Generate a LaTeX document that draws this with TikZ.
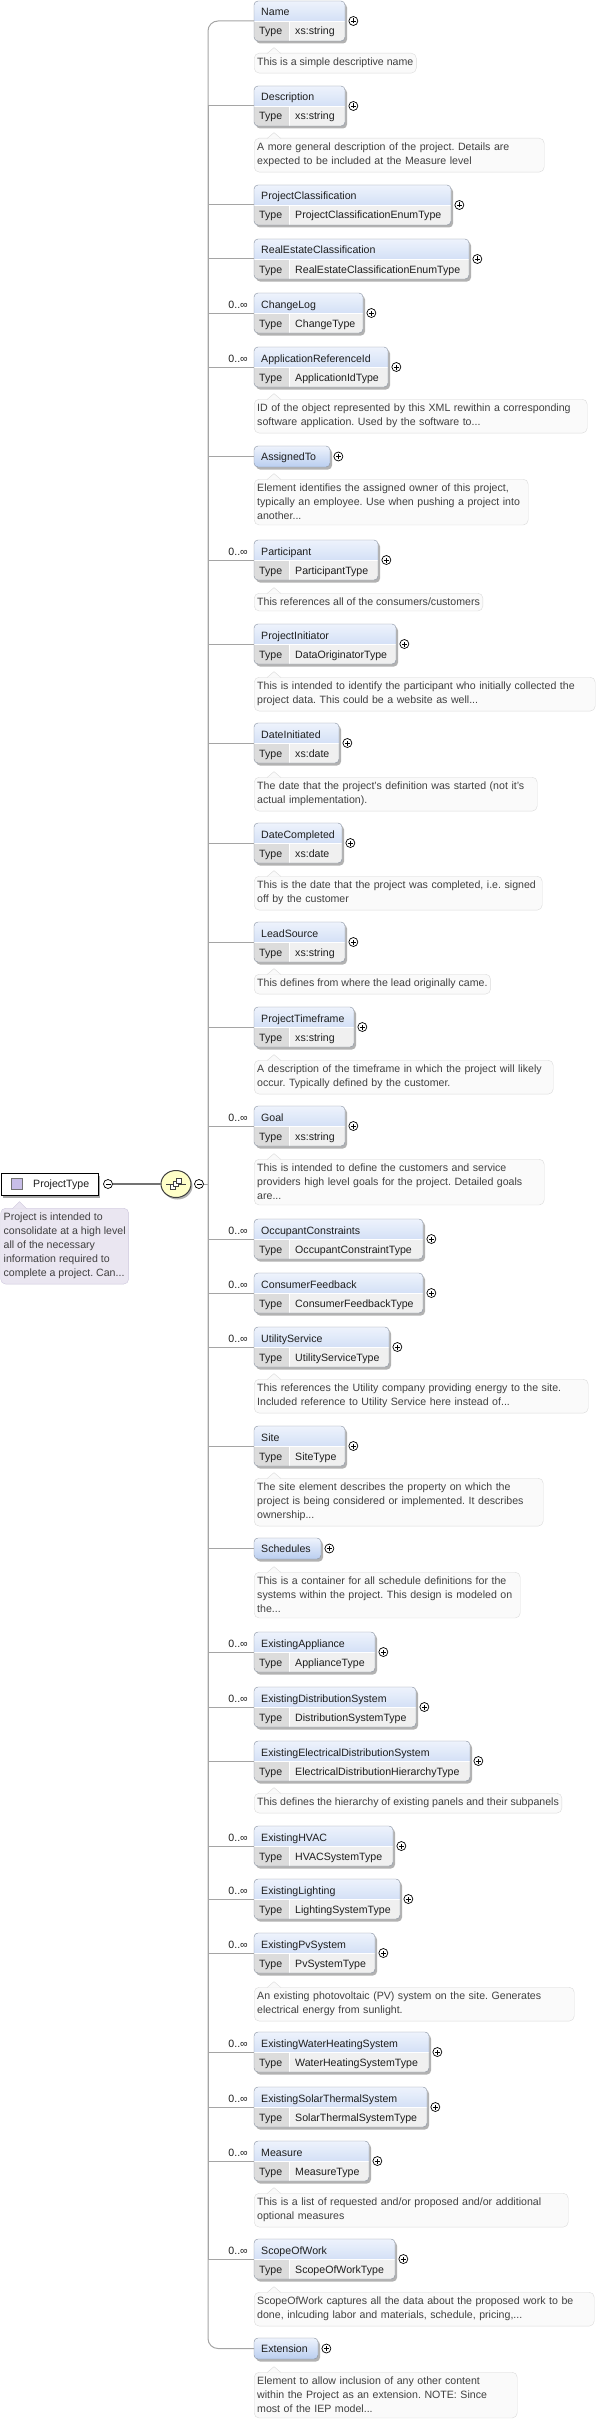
\documentclass[tikz,border=0pt]{standalone}
\usepackage{fontspec}
\setmainfont{Liberation Sans}
\usepackage{tikz}
\usetikzlibrary{shapes.geometric, shadows, positioning}

\definecolor{hdtop}{RGB}{238,243,252}
\definecolor{hdbot}{RGB}{186,206,240}
\definecolor{boxline}{RGB}{135,145,160}
\definecolor{typefill}{RGB}{220,220,220}
\definecolor{valfill}{RGB}{240,240,240}
\definecolor{docfill}{RGB}{250,250,250}
\definecolor{docline}{RGB}{218,218,218}
\definecolor{rootfill}{RGB}{234,230,241}
\definecolor{rootline}{RGB}{205,198,220}
\definecolor{iconfill}{RGB}{200,190,232}
\definecolor{seqfill}{RGB}{255,255,200}
\definecolor{linkgray}{RGB}{165,165,165}
\definecolor{txt}{RGB}{30,30,30}

\begin{document}
\frenchspacing
\begin{tikzpicture}[
    x=1pt, y=-1pt,
    font=\fontsize{10.6}{14}\selectfont,
    box/.style={
        draw=boxline, rounded corners=4pt,
        anchor=north west, inner sep=0pt, outer sep=0pt,
        drop shadow={shadow xshift=2pt, shadow yshift=-2.5pt, fill=black!30, opacity=1}
    },
    lbl/.style={anchor=base west, inner sep=0pt, text=txt},
    elem/.style n args={3}{
        box, fill=valfill,
        minimum width=#1, minimum height=40,
        path picture={
            \shade[sharp corners, top color=hdtop, bottom color=hdbot]
                (path picture bounding box.north west) rectangle (path picture bounding box.east);
            \fill[sharp corners, typefill] (path picture bounding box.west)
                rectangle ([xshift=35pt]path picture bounding box.south west);
            \draw[white, line width=0.8pt] (path picture bounding box.west) -- (path picture bounding box.east);
            \draw[white, line width=0.8pt] ([xshift=35pt]path picture bounding box.west)
                -- ([xshift=35pt]path picture bounding box.south west);
        },
        label={[lbl, xshift=7pt, yshift=-15pt]north west:#2},
        label={[lbl, xshift=5pt, yshift=6pt]south west:Type},
        label={[lbl, xshift=41pt, yshift=6pt]south west:#3}
    },
    group/.style 2 args={
        box, minimum width=#1, minimum height=21,
        top color=hdtop, bottom color=hdbot,
        label={[lbl, xshift=7pt, yshift=-14.5pt]north west:#2}
    },
    many/.style={label={[lbl, anchor=base east, xshift=-6pt, yshift=-15pt]north west:0..∞}},
    plus/.style={
        circle, draw=black, fill=white, line width=0.7pt,
        minimum size=9pt, inner sep=0pt,
        path picture={
            \draw[line width=0.7pt] ([xshift=-2.5pt]path picture bounding box.center)
                -- ([xshift=2.5pt]path picture bounding box.center)
                ([yshift=-2.5pt]path picture bounding box.center)
                -- ([yshift=2.5pt]path picture bounding box.center);
        }
    },
    minus/.style={
        circle, draw=black, fill=white, line width=0.7pt,
        minimum size=9pt, inner sep=0pt,
        path picture={
            \draw[line width=0.7pt] ([xshift=-2.5pt]path picture bounding box.center)
                -- ([xshift=2.5pt]path picture bounding box.center);
        }
    },
    seq/.style={
        ellipse, draw=black!75, line width=1pt, fill=seqfill,
        minimum width=30, minimum height=27, inner sep=0pt,
        drop shadow={shadow xshift=1.5pt, shadow yshift=-2pt, fill=black!30, opacity=1},
        path picture={
            \draw[line width=0.8pt] ([xshift=-10pt]path picture bounding box.center)
                -- ([xshift=10pt]path picture bounding box.center);
            \foreach \i in {-1,0,1}
                \filldraw[fill=white, line width=0.6pt]
                    ([xshift=\i*3pt-2.5pt, yshift=\i*3pt-2.5pt]path picture bounding box.center)
                    rectangle ++(5pt,5pt);
        }
    },
    root/.style={
        draw=black, fill=white, line width=1pt,
        anchor=north west, minimum width=97, minimum height=22, inner sep=0pt,
        drop shadow={shadow xshift=2pt, shadow yshift=-2.5pt, fill=black!35, opacity=1}
    },
    rooticon/.style={draw=black!55, fill=iconfill, minimum size=11pt, inner sep=0pt},
    doc/.style={
        draw=docline, fill=docfill, rounded corners=5pt,
        anchor=north west, align=left, inner xsep=3pt, inner ysep=5pt,
        text=txt!85
    },
    rootdoc/.style={doc, draw=rootline, fill=rootfill},
    tip/.style={draw=docline, fill=docfill, sharp corners},
    link/.style={draw=linkgray, line width=1pt},
    rootlink/.style={draw=black!55, line width=1.3pt},
]
\useasboundingbox (0,0) rectangle (598,2424);

% ProjectType
\node[root] (ptype) at (0.5,1173) {};
\node[rooticon] (ptypeI) at (16.5,1184) {};
\node[lbl, anchor=west] (ptypeT) at (33,1184.5) {ProjectType};
\node[minus] (ptypeM) at (108,1184) {};
\node[rootdoc] (ptypeD) at (0.5,1208)
    {Project is intended to\\consolidate at a high level\\all of the necessary\\information required to\\complete a project. Can...};
\draw[tip, draw=rootline, fill=rootfill] ([xshift=12pt, yshift=-0.6pt]ptypeD.north west) -- ++(7,-7) -- ++(7,7);

% Sequence
\node[seq] (seq) at (176,1184) {};
\node[minus] (seqM) at (199,1184) {};
\coordinate (spine) at (208,1184);
\draw[rootlink] (ptypeM) -- (seq);
\draw[link] (seqM) -- (spine);

%% Children
\node[elem={91}{Name}{xs:string}] (name) at (254,1) {};
\node[plus, right=3.5pt of name] (nameP) {};
\draw[link, rounded corners=10pt] (spine) |- (name.west);
\node[doc] (nameD) at (254,53) {This is a simple descriptive name};
\draw[tip] ([xshift=13pt, yshift=-0.6pt]nameD.north west) -- ++(7,-6) -- ++(7,6);

\node[elem={91}{Description}{xs:string}] (desc) at (254,86) {};
\node[plus, right=3.5pt of desc] (descP) {};
\draw[link] (spine) |- (desc.west);
\node[doc, text width=284pt] (descD) at (254,138)
    {A more general description of the project. Details are\\expected to be included at the Measure level};
\draw[tip] ([xshift=13pt, yshift=-0.6pt]descD.north west) -- ++(7,-6) -- ++(7,6);

\node[elem={197}{ProjectClassification}{ProjectClassificationEnumType}] (pclass) at (254,185) {};
\node[plus, right=3.5pt of pclass] (pclassP) {};
\draw[link] (spine) |- (pclass.west);

\node[elem={215}{RealEstateClassification}{RealEstateClassificationEnumType}] (reclass) at (254,239) {};
\node[plus, right=3.5pt of reclass] (reclassP) {};
\draw[link] (spine) |- (reclass.west);

\node[elem={109}{ChangeLog}{ChangeType}, many] (chlog) at (254,293) {};
\node[plus, right=3.5pt of chlog] (chlogP) {};
\draw[link] (spine) |- (chlog.west);

\node[elem={134}{ApplicationReferenceId}{ApplicationIdType}, many] (appid) at (254,347) {};
\node[plus, right=3.5pt of appid] (appidP) {};
\draw[link] (spine) |- (appid.west);
\node[doc, text width=327pt] (appidD) at (254,399)
    {ID of the object represented by this XML rewithin a corresponding\\software application. Used by the software to...};
\draw[tip] ([xshift=13pt, yshift=-0.6pt]appidD.north west) -- ++(7,-6) -- ++(7,6);

\node[group={76}{AssignedTo}] (assto) at (254,446) {};
\node[plus, right=3.5pt of assto] (asstoP) {};
\draw[link] (spine) |- (assto.west);
\node[doc, text width=268pt] (asstoD) at (254,479)
    {Element identifies the assigned owner of this project,\\typically an employee. Use when pushing a project into\\another...};
\draw[tip] ([xshift=13pt, yshift=-0.6pt]asstoD.north west) -- ++(7,-6) -- ++(7,6);

\node[elem={124}{Participant}{ParticipantType}, many] (part) at (254,540) {};
\node[plus, right=3.5pt of part] (partP) {};
\draw[link] (spine) |- (part.west);
\node[doc] (partD) at (254,593) {This references all of the consumers/customers};
\draw[tip] ([xshift=13pt, yshift=-0.6pt]partD.north west) -- ++(7,-6) -- ++(7,6);

\node[elem={142}{ProjectInitiator}{DataOriginatorType}] (pinit) at (254,624) {};
\node[plus, right=3.5pt of pinit] (pinitP) {};
\draw[link] (spine) |- (pinit.west);
\node[doc, text width=335pt] (pinitD) at (254,677)
    {This is intended to identify the participant who initially collected the\\project data. This could be a website as well...};
\draw[tip] ([xshift=13pt, yshift=-0.6pt]pinitD.north west) -- ++(7,-6) -- ++(7,6);

\node[elem={85}{DateInitiated}{xs:date}] (dinit) at (254,723) {};
\node[plus, right=3.5pt of dinit] (dinitP) {};
\draw[link] (spine) |- (dinit.west);
\node[doc, text width=277pt] (dinitD) at (254,777)
    {The date that the project's definition was started (not it's\\actual implementation).};
\draw[tip] ([xshift=13pt, yshift=-0.6pt]dinitD.north west) -- ++(7,-6) -- ++(7,6);

\node[elem={88}{DateCompleted}{xs:date}] (dcomp) at (254,823) {};
\node[plus, right=3.5pt of dcomp] (dcompP) {};
\draw[link] (spine) |- (dcomp.west);
\node[doc, text width=282pt] (dcompD) at (254,876)
    {This is the date that the project was completed, i.e. signed\\off by the customer};
\draw[tip] ([xshift=13pt, yshift=-0.6pt]dcompD.north west) -- ++(7,-6) -- ++(7,6);

\node[elem={91}{LeadSource}{xs:string}] (lead) at (254,922) {};
\node[plus, right=3.5pt of lead] (leadP) {};
\draw[link] (spine) |- (lead.west);
\node[doc] (leadD) at (254,974) {This defines from where the lead originally came.};
\draw[tip] ([xshift=13pt, yshift=-0.6pt]leadD.north west) -- ++(7,-6) -- ++(7,6);

\node[elem={100}{ProjectTimeframe}{xs:string}] (ptime) at (254,1007) {};
\node[plus, right=3.5pt of ptime] (ptimeP) {};
\draw[link] (spine) |- (ptime.west);
\node[doc, text width=293pt] (ptimeD) at (254,1060)
    {A description of the timeframe in which the project will likely\\occur. Typically defined by the customer.};
\draw[tip] ([xshift=13pt, yshift=-0.6pt]ptimeD.north west) -- ++(7,-6) -- ++(7,6);

\node[elem={91}{Goal}{xs:string}, many] (goal) at (254,1106) {};
\node[plus, right=3.5pt of goal] (goalP) {};
\draw[link] (spine) |- (goal.west);
\node[doc, text width=284pt] (goalD) at (254,1159)
    {This is intended to define the customers and service\\providers high level goals for the project. Detailed goals\\are...};
\draw[tip] ([xshift=13pt, yshift=-0.6pt]goalD.north west) -- ++(7,-6) -- ++(7,6);

\node[elem={169}{OccupantConstraints}{OccupantConstraintType}, many] (occ) at (254,1219) {};
\node[plus, right=3.5pt of occ] (occP) {};
\draw[link] (spine) |- (occ.west);

\node[elem={169}{ConsumerFeedback}{ConsumerFeedbackType}, many] (cfb) at (254,1273) {};
\node[plus, right=3.5pt of cfb] (cfbP) {};
\draw[link] (spine) |- (cfb.west);

\node[elem={135}{UtilityService}{UtilityServiceType}, many] (util) at (254,1327) {};
\node[plus, right=3.5pt of util] (utilP) {};
\draw[link] (spine) |- (util.west);
\node[doc, text width=328pt] (utilD) at (254,1379)
    {This references the Utility company providing energy to the site.\\Included reference to Utility Service here instead of...};
\draw[tip] ([xshift=13pt, yshift=-0.6pt]utilD.north west) -- ++(7,-6) -- ++(7,6);

\node[elem={91}{Site}{SiteType}] (site) at (254,1426) {};
\node[plus, right=3.5pt of site] (siteP) {};
\draw[link] (spine) |- (site.west);
\node[doc, text width=283pt] (siteD) at (254,1478)
    {The site element describes the property on which the\\project is being considered or implemented. It describes\\ownership...};
\draw[tip] ([xshift=13pt, yshift=-0.6pt]siteD.north west) -- ++(7,-6) -- ++(7,6);

\node[group={67}{Schedules}] (sched) at (254,1538) {};
\node[plus, right=3.5pt of sched] (schedP) {};
\draw[link] (spine) |- (sched.west);
\node[doc, text width=260pt] (schedD) at (254,1572)
    {This is a container for all schedule definitions for the\\systems within the project. This design is modeled on\\the...};
\draw[tip] ([xshift=13pt, yshift=-0.6pt]schedD.north west) -- ++(7,-6) -- ++(7,6);

\node[elem={121}{ExistingAppliance}{ApplianceType}, many] (exapp) at (254,1632) {};
\node[plus, right=3.5pt of exapp] (exappP) {};
\draw[link] (spine) |- (exapp.west);

\node[elem={162}{ExistingDistributionSystem}{DistributionSystemType}, many] (exdist) at (254,1687) {};
\node[plus, right=3.5pt of exdist] (exdistP) {};
\draw[link] (spine) |- (exdist.west);

\node[elem={216}{ExistingElectricalDistributionSystem}{ElectricalDistributionHierarchyType}] (exelec) at (254,1741) {};
\node[plus, right=3.5pt of exelec] (exelecP) {};
\draw[link] (spine) |- (exelec.west);
\node[doc] (exelecD) at (254,1793) {This defines the hierarchy of existing panels and their subpanels};
\draw[tip] ([xshift=13pt, yshift=-0.6pt]exelecD.north west) -- ++(7,-6) -- ++(7,6);

\node[elem={139}{ExistingHVAC}{HVACSystemType}, many] (exhvac) at (254,1826) {};
\node[plus, right=3.5pt of exhvac] (exhvacP) {};
\draw[link] (spine) |- (exhvac.west);

\node[elem={146}{ExistingLighting}{LightingSystemType}, many] (exlight) at (254,1879) {};
\node[plus, right=3.5pt of exlight] (exlightP) {};
\draw[link] (spine) |- (exlight.west);

\node[elem={121}{ExistingPvSystem}{PvSystemType}, many] (expv) at (254,1933) {};
\node[plus, right=3.5pt of expv] (expvP) {};
\draw[link] (spine) |- (expv.west);
\node[doc, text width=314pt] (expvD) at (254,1987)
    {An existing photovoltaic (PV) system on the site. Generates\\electrical energy from sunlight.};
\draw[tip] ([xshift=13pt, yshift=-0.6pt]expvD.north west) -- ++(7,-6) -- ++(7,6);

\node[elem={175}{ExistingWaterHeatingSystem}{WaterHeatingSystemType}, many] (exwater) at (254,2032) {};
\node[plus, right=3.5pt of exwater] (exwaterP) {};
\draw[link] (spine) |- (exwater.west);

\node[elem={173}{ExistingSolarThermalSystem}{SolarThermalSystemType}, many] (exsolar) at (254,2087) {};
\node[plus, right=3.5pt of exsolar] (exsolarP) {};
\draw[link] (spine) |- (exsolar.west);

\node[elem={115}{Measure}{MeasureType}, many] (measure) at (254,2141) {};
\node[plus, right=3.5pt of measure] (measureP) {};
\draw[link] (spine) |- (measure.west);
\node[doc, text width=308pt] (measureD) at (254,2193)
    {This is a list of requested and/or proposed and/or additional\\optional measures};
\draw[tip] ([xshift=13pt, yshift=-0.6pt]measureD.north west) -- ++(7,-6) -- ++(7,6);

\node[elem={141}{ScopeOfWork}{ScopeOfWorkType}, many] (scope) at (254,2239) {};
\node[plus, right=3.5pt of scope] (scopeP) {};
\draw[link] (spine) |- (scope.west);
\node[doc, text width=334pt] (scopeD) at (254,2292)
    {ScopeOfWork captures all the data about the proposed work to be\\done, inlcuding labor and materials, schedule, pricing,...};
\draw[tip] ([xshift=13pt, yshift=-0.6pt]scopeD.north west) -- ++(7,-6) -- ++(7,6);

\node[group={64}{Extension}] (ext) at (254,2338) {};
\node[plus, right=3.5pt of ext] (extP) {};
\draw[link, rounded corners=10pt] (spine) |- (ext.west);
\node[doc, text width=257pt] (extD) at (254,2372)
    {Element to allow inclusion of any other content\\within the Project as an extension. NOTE: Since\\most of the IEP model...};
\draw[tip] ([xshift=13pt, yshift=-0.6pt]extD.north west) -- ++(7,-6) -- ++(7,6);

\end{tikzpicture}
\end{document}
